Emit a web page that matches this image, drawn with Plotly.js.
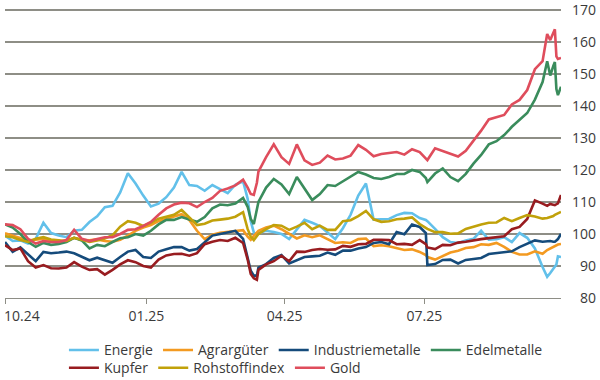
<!DOCTYPE html>
<html>
<head>
<meta charset="utf-8">
<script src="https://cdn.plot.ly/plotly-3.0.1.min.js"></script>
<style>html,body{margin:0;padding:0;background:#fff;}#chart{width:600px;height:380px;}</style>
</head>
<body>
<div id="chart"></div>
<script>
const dates = [
'2024-10-01','2024-10-06','2024-10-11','2024-10-16','2024-10-21','2024-10-26','2024-10-31','2024-11-05','2024-11-10','2024-11-15',
'2024-11-20','2024-11-25','2024-11-30','2024-12-05','2024-12-10','2024-12-15','2024-12-20','2024-12-25','2024-12-30','2025-01-04',
'2025-01-09','2025-01-14','2025-01-19','2025-01-24','2025-01-29','2025-02-03','2025-02-08','2025-02-13','2025-02-18','2025-02-23',
'2025-02-28','2025-03-05',
'2025-03-08',
'2025-03-10',
'2025-03-12','2025-03-14',
'2025-03-15','2025-03-20','2025-03-25','2025-03-30','2025-04-04','2025-04-09','2025-04-14','2025-04-19','2025-04-24','2025-04-29',
'2025-05-04','2025-05-09','2025-05-14','2025-05-19','2025-05-24','2025-05-29','2025-06-03','2025-06-08','2025-06-13','2025-06-18',
'2025-06-23','2025-06-28',
'2025-07-02',
'2025-07-03','2025-07-08','2025-07-13','2025-07-18','2025-07-23','2025-07-28','2025-08-02','2025-08-07','2025-08-12','2025-08-17',
'2025-08-22','2025-08-27','2025-09-01','2025-09-06','2025-09-11','2025-09-16',
'2025-09-19',
'2025-09-21',
'2025-09-23','2025-09-24','2025-09-25',
'2025-09-26',
'2025-09-28'
];

const energie = [
99.5, 97.8, 98, 97, 98.5, 103.5, 100.3, 99.5, 99, 101,
101.3, 103.75, 105.5, 108.4, 108.8, 113, 119, 115.8, 112, 108.6,
109.5, 111.5, 114.5, 119.4, 115.3, 115, 113.5, 115.3, 114, 112.8,
115.4, 116.5,
111,
104,
100.5, 99.7,
100.3, 101, 100.6, 100, 98.4, 101.3, 104.4, 103.5, 102.5, 100.5,
98.4, 101.8, 106, 112, 115.8, 104.5, 104.5, 104.7, 105.9, 106.6,
106.5, 105,
104.4,
104, 101.6, 99, 97.5, 97.2, 98, 98.5, 101, 98.2, 98.4,
99, 97.5, 100.3, 98.8, 95.5, 89.7,
86.6,
87.8,
89, 89.7, 90.5,
93,
92.8
];

const agrargueter = [
100.2, 99.5, 98.8, 98, 98.2, 98.5, 97.8, 97.5, 98, 98.8,
98.2, 98, 98.3, 97.8, 97.6, 98.2, 99.5, 101, 102, 102.8,
104, 104.7, 105.5, 106.2, 104.4, 101, 98.4, 99.8, 100.4, 100.6,
101, 101.2,
99.2,
98.2,
99.4, 100.3,
101, 102, 102.6, 101.5, 100, 98.6, 99.6, 99, 99.6, 98.3,
97.2, 97.4, 97.2, 98.4, 98.6, 96.2, 96.5, 96.2, 95.6, 95,
95.2, 94.4,
93.4,
92.8, 92, 93, 94.2, 94.8, 95.6, 95.9, 96.8, 96.6, 97.2,
96, 94.4, 93.6, 93.6, 94.6, 93.8,
95,
95.5,
96.1, 96.3, 96.6,
96.7,
96.9
];

const industriemetalle = [
97.5, 94.4, 95.8, 93.5, 91.5, 94.4, 94, 94.2, 94.5, 94,
92.8, 91.8, 92.6, 91.9, 91, 92.8, 94.5, 95, 92.8, 92.5,
94.5, 95.2, 95.9, 95.9, 94.8, 95.3, 97.5, 99.5, 100, 100.4,
101, 98.5,
93,
88.5,
87, 87,
89.5, 90.6, 92.5, 93.4, 90.8, 91.9, 92.8, 93, 93.2, 94.2,
93.5, 94.8, 94.8, 95.5, 95.9, 97.2, 97.5, 96.8, 100.6, 99.9,
103, 102.2,
100.3,
90.3, 90.6, 91.9, 92, 90.8, 91.9, 92.2, 92.5, 93.75, 94,
94.3, 94.6, 95.9, 97, 98, 97.6,
97.8,
97.8,
97.6, 97.6, 98,
98.4,
100
];

const edelmetalle = [
103, 102, 100, 97.5, 96, 97.2, 96.6, 96.9, 97.5, 98.8,
98, 95.5, 96.6, 96.2, 97.5, 98.7, 99, 100, 99.5, 101,
103, 104.4, 104.4, 105.3, 104.5, 103.8, 105.3, 108, 109.2, 109,
109.5, 111.3,
108.5,
104.7,
103.1, 107.5,
110, 114.5, 117.2, 115.5, 112.5, 117.8, 114, 110.6, 112.5, 115.3,
115, 116.4, 118, 119.4, 118.6, 117.5, 117.2, 117.8, 118.75, 118.8,
120, 119.4,
117.5,
116.25, 118.9, 120.5, 117.8, 116.5, 118.8, 122, 124.7, 128, 129,
130.9, 133.5, 135.6, 137.8, 142, 147.5,
154,
149.5,
152.5, 153.75, 145.3,
143.4,
146
];

const kupfer = [
96.5, 95, 95.5, 91.5, 89.5, 90.3, 89.3, 89.2, 89.5, 91.2,
89.8, 88.8, 89, 87.3, 88.8, 90.5, 91.8, 91.2, 90, 89.5,
92, 93.3, 93.75, 93.8, 93.2, 94, 96.8, 97.6, 98.1, 97.8,
98.8, 97.2,
92,
87.5,
86.2, 85.7,
88.8, 90.5, 91.5, 93.2, 91.5, 94.5, 94.4, 95, 95.3, 95.1,
95.2, 96.3, 96, 96.8, 96.9, 98.2, 98.2, 98.1, 96.8, 96.9,
96.6, 98.1,
96.8,
95.8, 95.3, 96.6, 96.5, 97.3, 97.6, 98.1, 98.4, 98.7, 99,
99.3, 101.5, 102.2, 104.7, 110.5, 109.5,
108.8,
109.4,
109.1, 109, 109.3,
109.6,
112.2
];

const rohstoffindex = [
99.3, 99, 98.1, 97.5, 98.5, 99, 98.3, 98, 97.8, 98.8,
98.1, 97.5, 98, 98.6, 99.6, 102.3, 104, 103.5, 102.5, 103.5,
104.8, 105.5, 106, 107.5, 105.3, 102.8, 103.2, 104.2, 104.5, 104.8,
105.4, 106.8,
101.5,
99.2,
98.1, 99.2,
100, 101.5, 102.8, 102.6, 101.3, 102.3, 103.5, 101.5, 102.6, 101.3,
101.3, 104, 104.3, 105.6, 107.2, 104.6, 103.8, 104, 104.6, 104.8,
105.2, 103.1,
102,
101.6, 100.6, 100.6, 100.1, 100.2, 101.6, 102.4, 103, 103.5, 103.6,
105, 104, 105, 105.9, 105.5, 104.8,
105,
105.3,
105.6, 106, 106.25,
106.4,
106.9
];

const gold = [
103, 102.8, 101.5, 98.5, 97, 97.8, 97.5, 97.5, 98.1, 101.3,
98.5, 97.8, 98.4, 99, 99, 100, 101.3, 101.5, 102.5, 103.75,
106, 108, 109.2, 109.8, 109.6, 108.4, 110, 111.3, 113.5, 114.2,
115.2, 117,
114.5,
112.5,
112.2, 116,
119.5, 124, 128, 124, 121.9, 128, 123, 121.6, 122.3, 124.5,
123.3, 123.6, 124.5, 127.8, 126.3, 124.3, 125, 125.3, 125.6, 124.8,
126.5, 125.6,
123.5,
123.1, 126.8, 126, 125, 124.2, 126, 129, 132.3, 135.8, 136.6,
137.2, 140.5, 141.9, 145, 151.5, 154,
162.5,
160.6,
163, 164, 155.5,
154.7,
155
];

const seriesNames = ['Energie', 'Agrargüter', 'Industriemetalle', 'Edelmetalle', 'Kupfer', 'Rohstoffindex', 'Gold'];
const seriesValues = [energie, agrargueter, industriemetalle, edelmetalle, kupfer, rohstoffindex, gold];
const seriesColors = ['#62c0ea', '#f39a21', '#154b7b', '#3a8c5c', '#981c20', '#c1a10a', '#df4d5c'];
const legendRow = ['legend', 'legend', 'legend', 'legend', 'legend2', 'legend2', 'legend2'];

const xTickDates = ['2024-10-01', '2025-01-01', '2025-04-01', '2025-07-01'];
const xTickLabels = ['10.24', '01.25', '04.25', '07.25'];
const yTickValues = [80, 90, 100, 110, 120, 130, 140, 150, 160, 170];

seriesValues.forEach(function (s, i) {
  if (s.length !== dates.length) throw new Error('length mismatch ' + seriesNames[i] + ' ' + s.length + ' vs ' + dates.length);
});

const traces = seriesNames.map(function (name, i) {
  return {
    type: 'scatter', mode: 'lines', name: name,
    x: dates, y: seriesValues[i],
    line: {color: seriesColors[i], width: 2.6},
    legend: legendRow[i],
    hoverinfo: 'skip'
  };
});

const gridCol = '#8e8e86';
const txtCol = '#3a3a3a';
const legendBase = {
  orientation: 'h', xanchor: 'left', yanchor: 'top',
  bgcolor: 'rgba(0,0,0,0)', borderwidth: 0,
  font: {family: 'Open Sans, sans-serif', size: 14, color: txtCol},
  itemclick: false, itemdoubleclick: false
};

// plot area: 80 at y=298, 170 at y=10 (32 px per 10 units); range padded by 5 px at the top
const layout = {
  width: 600, height: 380,
  margin: {l: 5, r: 39, t: 5, b: 82, autoexpand: false},
  paper_bgcolor: '#ffffff', plot_bgcolor: '#ffffff',
  font: {family: 'Open Sans, sans-serif', size: 14, color: txtCol},
  showlegend: true,
  xaxis: {
    type: 'date', range: ['2024-10-01', '2025-09-28'],
    tickmode: 'array', tickvals: xTickDates,
    ticktext: xTickLabels.map(function (t, i) { return i === 0 ? '' : t; }),
    ticks: 'outside', ticklen: 5, tickwidth: 1, tickcolor: gridCol,
    showline: true, linecolor: gridCol, linewidth: 1.3,
    showgrid: false, zeroline: false, fixedrange: true,
    tickfont: {size: 14, color: txtCol}
  },
  yaxis: {
    side: 'right', range: [80, 171.5625],
    tickmode: 'array', tickvals: yTickValues,
    ticktext: yTickValues.map(function (v) { return v < 100 ? '\u2007' + v : String(v); }),
    ticks: '', showgrid: true, gridcolor: gridCol, gridwidth: 1.3,
    zeroline: false, showline: false, fixedrange: true,
    ticklabelstandoff: 10, ticklabeloverflow: 'allow',
    tickfont: {size: 14, color: txtCol}
  },
  legend: Object.assign({}, legendBase, {x: 0.106, y: -0.124}),
  legend2: Object.assign({}, legendBase, {x: 0.106, y: -0.185}),
  annotations: [{
    text: xTickLabels[0], x: xTickDates[0], xref: 'x',
    y: -0.06, yref: 'paper', xanchor: 'left', yanchor: 'middle',
    xshift: -3, showarrow: false,
    font: {family: 'Open Sans, sans-serif', size: 14, color: txtCol}
  }]
};

Plotly.newPlot('chart', traces, layout, {displayModeBar: false, staticPlot: true});
</script>
</body>
</html>
